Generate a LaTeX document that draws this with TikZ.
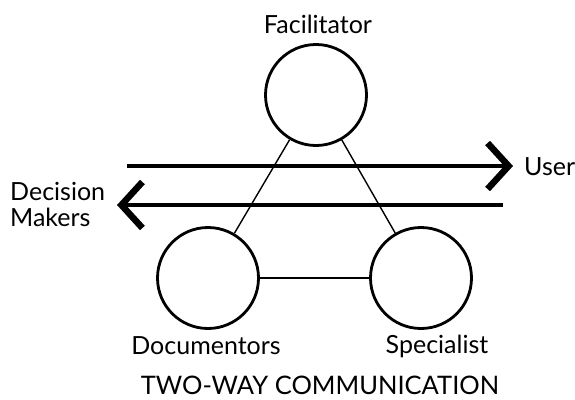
\documentclass[tikz,border=0pt]{standalone}
\usepackage{fontspec}
\setmainfont{Lato}
\usetikzlibrary{arrows.meta}
\begin{document}
\begin{tikzpicture}[x=1pt,y=-1pt,
  role/.style={circle,draw,line width=2.8pt,minimum size=101pt,inner sep=0pt},
  link/.style={line width=1.4pt},
  flow/.style={line width=3.8pt,-{Straight Barb[length=21pt,width=46pt,line width=6.5pt]}},
  lbl/.style={font=\fontsize{25}{26}\selectfont,inner sep=0pt},
  ]
\useasboundingbox (0,0) rectangle (575,399);
\node[role] (fac) at (316,95) {};
\node[role] (doc) at (208,278) {};
\node[role] (spec) at (421,278) {};
\draw[link] (fac) -- (doc);
\draw[link] (fac) -- (spec);
\draw[link] (doc) -- (spec);
\coordinate (a1s) at (127,166);
\coordinate (a1e) at (513,166);
\coordinate (a2s) at (503,205);
\coordinate (a2e) at (117,205);
\draw[flow] (a1s) -- (a1e);
\draw[flow] (a2s) -- (a2e);
\node[lbl] (tfac) at (318,24) {Facilitator};
\node[lbl,anchor=west] (tuser) at (524,167) {User};
\node[lbl,anchor=west,align=left] (tdm) at (10,204) {Decision\\Makers};
\node[lbl] (tdoc) at (206,346) {Documentors};
\node[lbl] (tspec) at (437,346) {Specialist};
\node[lbl,font=\fontsize{25.5}{27}\selectfont] (ttitle) at (320,385) {TWO-WAY COMMUNICATION};
\end{tikzpicture}
\end{document}
